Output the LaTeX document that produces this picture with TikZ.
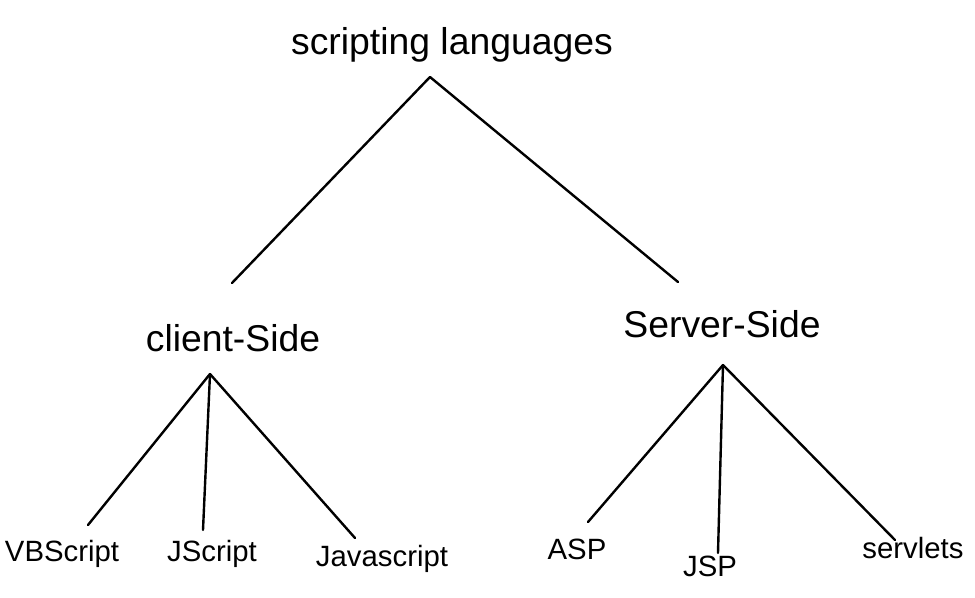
\documentclass[tikz,border=0pt]{standalone}
\usepackage{fontspec}
\setmainfont{Liberation Sans}

\tikzset{every picture/.style={line width=0.75pt}}
\tikzset{
  branch/.style={line width=1.8pt, line cap=round, line join=round},
  upper/.style={font=\fontsize{28}{30}\selectfont, inner sep=0pt},
  leaf/.style={font=\fontsize{22}{24}\selectfont, inner sep=0pt},
}

\begin{document}
\begin{tikzpicture}[x=0.75pt,y=0.75pt,yscale=-1,xscale=1]
	\useasboundingbox (0,0) rectangle (975,598);

	% Text Node
	\node[upper] (root) at (452,45) {scripting languages};
	% Text Node
	\node[upper] (client) at (233,338) {client-Side};
	% Text Node
	\node[upper] (server) at (722,324) {Server-Side};

	% Text Node
	\node[leaf] (vbscript) at (62,554) {VBScript};
	% Text Node
	\node[leaf] (jscript) at (212,554) {JScript};
	% Text Node
	\node[leaf] (javascript) at (382,559) {Javascript};
	% Text Node
	\node[leaf] (asp) at (577,549) {ASP};
	% Text Node
	\node[leaf] (jsp) at (710,566) {JSP};
	% Text Node
	\node[leaf] (servlets) at (913,548) {servlets};

	% tips and free ends of the branches
	\coordinate (rootTip) at (430,77);
	\coordinate (clientEnd) at (232,283);
	\coordinate (serverEnd) at (678,282);
	\coordinate (clientTip) at (210,374);
	\coordinate (vbEnd) at (88,525);
	\coordinate (jEnd) at (203,530);
	\coordinate (javaEnd) at (355,538);
	\coordinate (serverTip) at (723,365);
	\coordinate (aspEnd) at (588,522);
	\coordinate (jspEnd) at (718,553);
	\coordinate (servletEnd) at (895,540);

	%Straight Lines
	\draw[branch] (clientEnd) -- (rootTip) -- (serverEnd) ;
	%Straight Lines
	\draw[branch] (clientTip) -- (vbEnd) ;
	\draw[branch] (clientTip) -- (jEnd) ;
	\draw[branch] (clientTip) -- (javaEnd) ;
	%Straight Lines
	\draw[branch] (serverTip) -- (aspEnd) ;
	\draw[branch] (serverTip) -- (jspEnd) ;
	\draw[branch] (serverTip) -- (servletEnd) ;

\end{tikzpicture}
\end{document}
